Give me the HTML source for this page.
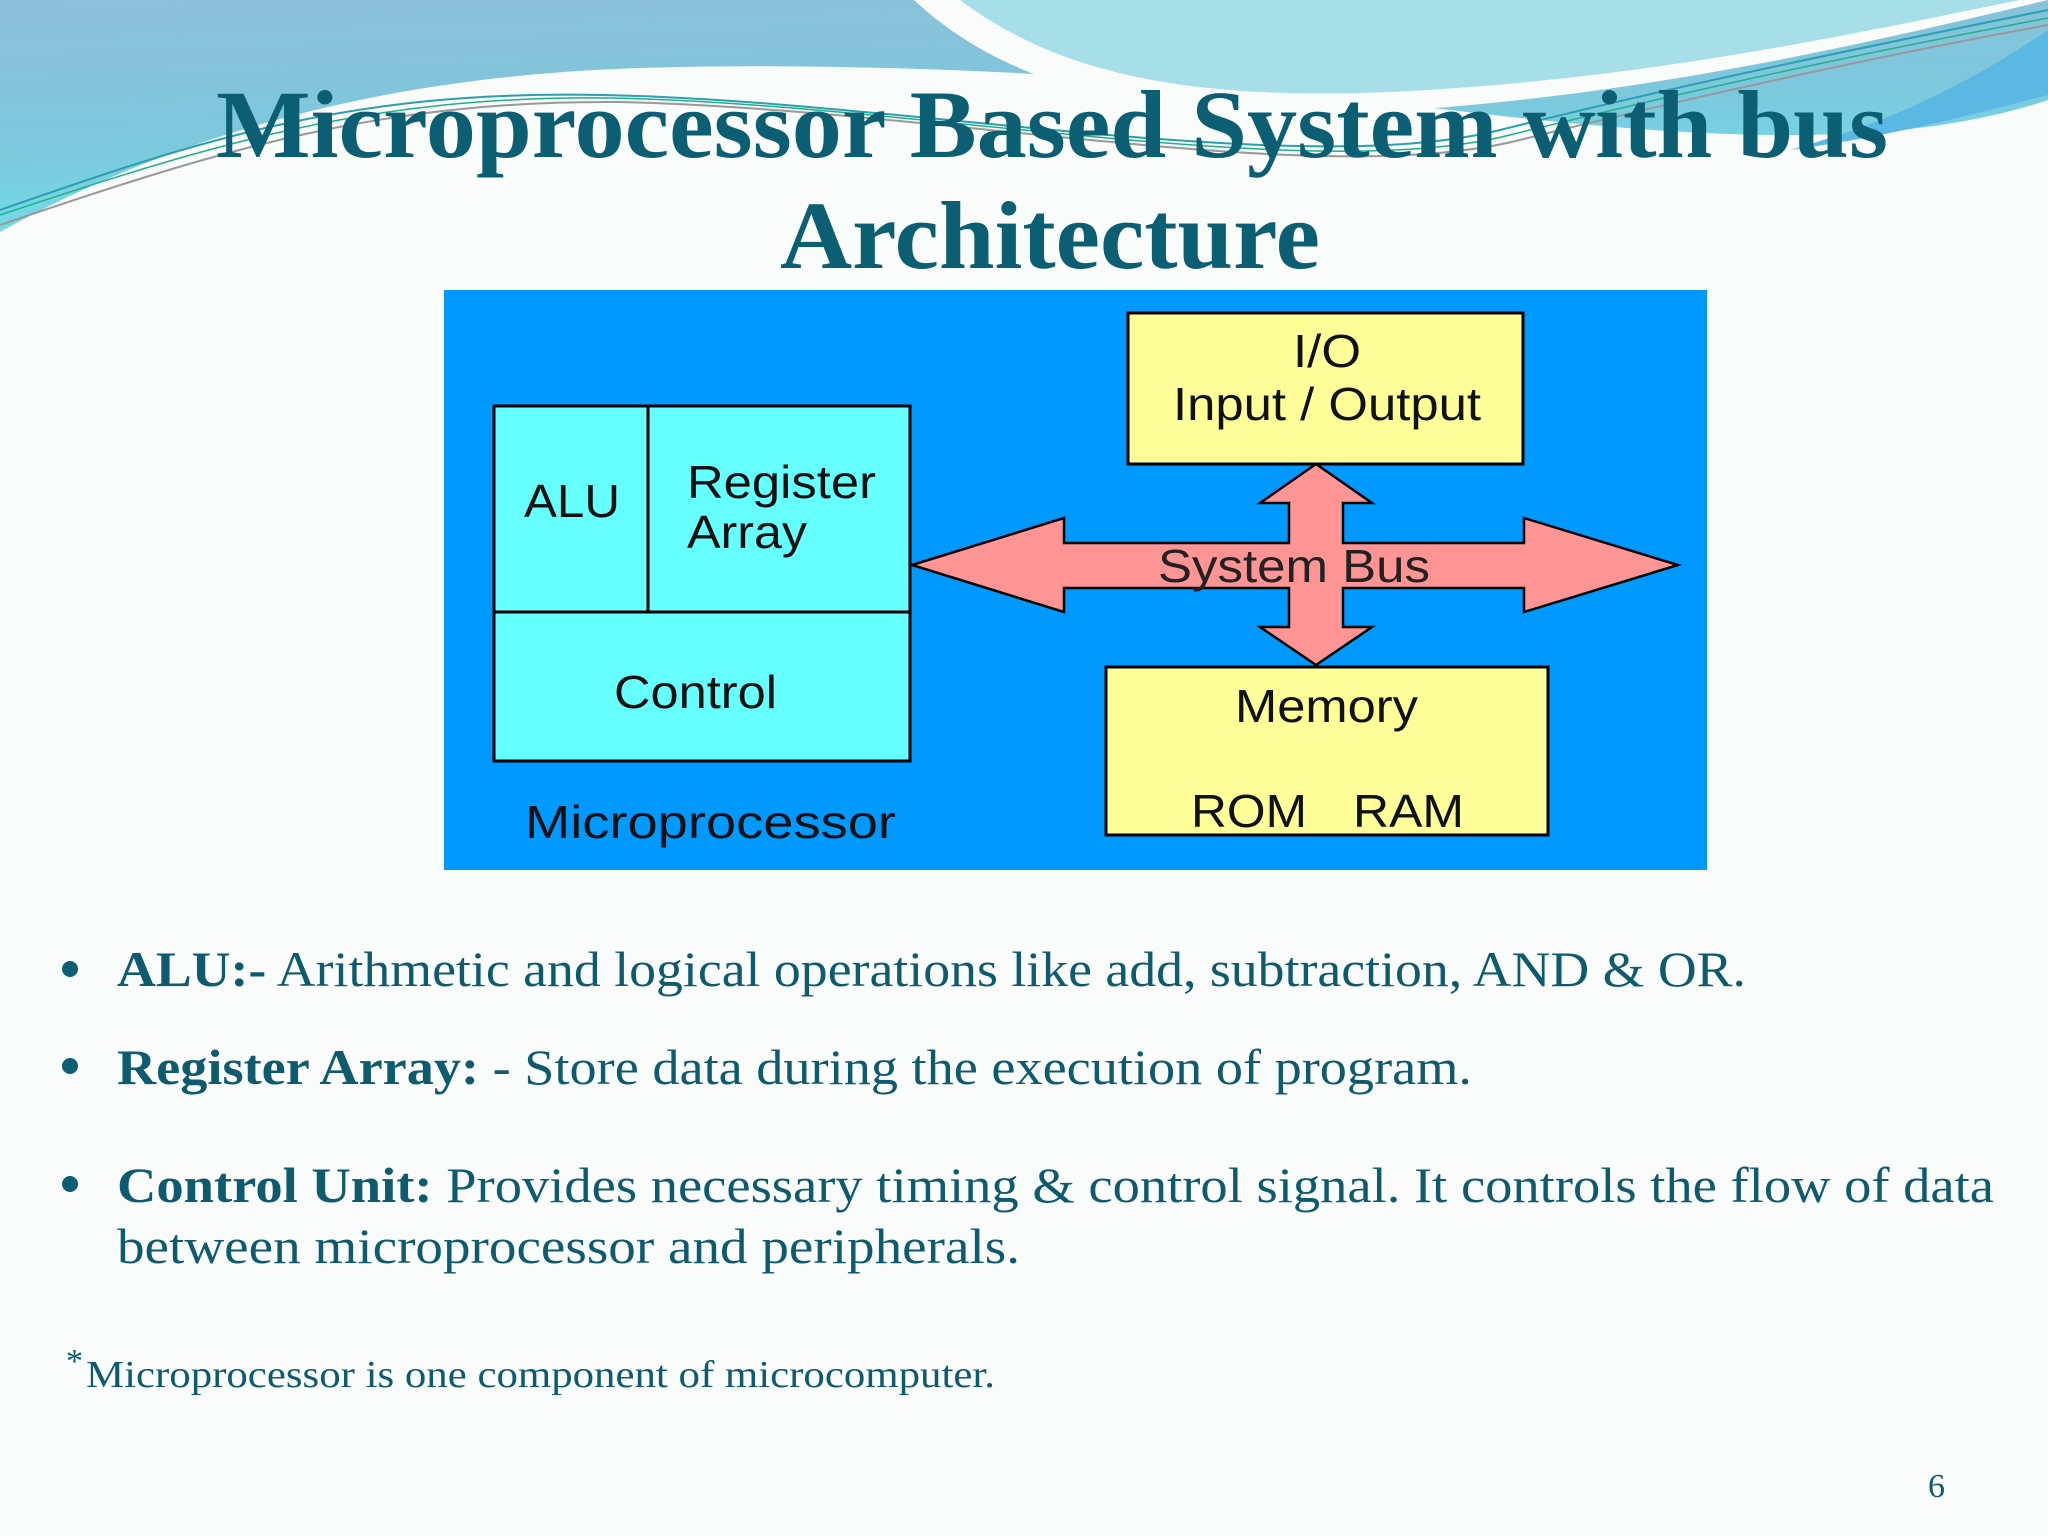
<!DOCTYPE html>
<html><head><meta charset="utf-8"><style>
html,body{margin:0;padding:0;background:#fafbfb;}
svg{display:block}
</style></head><body>
<svg width="2048" height="1536" viewBox="0 0 2048 1536" xmlns="http://www.w3.org/2000/svg">
<defs>
<linearGradient id="bg1" x1="0" y1="0" x2="0.3" y2="1">
<stop offset="0" stop-color="#8ebfda"/><stop offset="0.6" stop-color="#7cc8dc"/><stop offset="1" stop-color="#6fe0ea"/>
</linearGradient>
</defs>
<rect width="2048" height="1536" fill="#fafbfb"/>
<path d="M0,0 H2048 V100 C1900,150 1700,140 1450,110 C1200,80 900,60 640,68 C420,75 200,120 0,232 Z" fill="url(#bg1)"/>
<path d="M914,0 C1010,90 1160,125 1380,112 C1650,96 1880,40 2048,0 Z" fill="#fafbfb"/>
<path d="M960,0 C1060,75 1190,100 1390,92 C1650,80 1870,30 2020,0 Z" fill="#a6dfe8"/>
<path d="M2048,30 C1960,90 1880,125 1790,150 C1900,135 1990,110 2048,95 Z" fill="#5ab8e2"/>
<path d="M0,210 C200,140 350,90 600,95 C900,100 1300,180 1500,130 C1700,80 1900,40 2048,10" fill="none" stroke="#2a9fb0" stroke-width="2"/>
<path d="M0,225 C220,150 380,100 620,102 C950,110 1320,190 1520,140 C1720,90 1910,50 2048,25" fill="none" stroke="#999" stroke-width="2"/>
<path d="M0,215 C210,145 370,95 610,98 C920,104 1310,185 1510,135 C1710,85 1905,45 2048,18" fill="none" stroke="#1fb08a" stroke-width="1.5"/>

<g font-family="Liberation Serif, serif" font-weight="bold" fill="#0c5f73" font-size="96">
<text x="216" y="157" textLength="1672" lengthAdjust="spacingAndGlyphs">Microprocessor  Based System with bus</text>
<text x="780" y="268" textLength="540" lengthAdjust="spacingAndGlyphs">Architecture</text>
</g>

<rect x="444" y="290" width="1263" height="580" fill="#0099ff"/>
<g stroke="#000" stroke-width="3">
<rect x="494" y="406" width="416" height="355" fill="#66ffff"/>
<line x1="648" y1="406" x2="648" y2="612"/>
<line x1="494" y1="612" x2="910" y2="612"/>
<rect x="1128" y="313" width="395" height="151" fill="#ffff99"/>
<rect x="1106" y="667" width="442" height="168" fill="#ffff99"/>
<polygon points="912,565 1064,518 1064,543 1289,543 1289,503 1260,503 1316,464 1372,503 1343,503 1343,543 1524,543 1524,518 1678,565 1524,612 1524,588 1343,588 1343,627 1372,627 1316,665 1260,627 1289,627 1289,588 1064,588 1064,612" fill="#ff9494" stroke-width="2.5"/>
</g>
<g font-family="Liberation Sans, sans-serif" font-size="46" fill="#111">
<text x="524" y="517" textLength="96" lengthAdjust="spacingAndGlyphs">ALU</text>
<text x="687" y="498" textLength="189" lengthAdjust="spacingAndGlyphs">Register</text>
<text x="687" y="548" textLength="120" lengthAdjust="spacingAndGlyphs">Array</text>
<text x="614" y="708" textLength="163" lengthAdjust="spacingAndGlyphs">Control</text>
<text x="525" y="838" textLength="371" lengthAdjust="spacingAndGlyphs">Microprocessor</text>
<text x="1293" y="367" textLength="68" lengthAdjust="spacingAndGlyphs">I/O</text>
<text x="1173" y="420" textLength="308" lengthAdjust="spacingAndGlyphs">Input / Output</text>
<text x="1158" y="582" textLength="272" lengthAdjust="spacingAndGlyphs" fill="#222">System Bus</text>
<text x="1235" y="722" textLength="183" lengthAdjust="spacingAndGlyphs">Memory</text>
<text x="1191" y="827" textLength="116" lengthAdjust="spacingAndGlyphs">ROM</text>
<text x="1353" y="827" textLength="111" lengthAdjust="spacingAndGlyphs">RAM</text>
</g>

<g fill="#0c5f73">
<circle cx="70" cy="969" r="8"/>
<circle cx="70" cy="1066" r="8"/>
<circle cx="70" cy="1184" r="8"/>
</g>
<g font-family="Liberation Serif, serif" font-size="50" fill="#0e5a6e">
<text x="117" y="986" textLength="1629" lengthAdjust="spacingAndGlyphs"><tspan font-weight="bold">ALU:-</tspan> Arithmetic and logical operations like add, subtraction, AND &amp; OR.</text>
<text x="117" y="1084" textLength="1355" lengthAdjust="spacingAndGlyphs"><tspan font-weight="bold">Register Array:</tspan> - Store data during the execution of program.</text>
<text x="117" y="1202" textLength="1877" lengthAdjust="spacingAndGlyphs"><tspan font-weight="bold">Control Unit:</tspan> Provides necessary timing &amp; control signal. It controls the flow of data</text>
<text x="117" y="1263" textLength="903" lengthAdjust="spacingAndGlyphs">between microprocessor and peripherals.</text>
<text x="66" y="1372" font-size="34">*</text>
<text x="86" y="1387" font-size="38" textLength="909" lengthAdjust="spacingAndGlyphs">Microprocessor is one component of microcomputer.</text>
<text x="1928" y="1497" font-size="34">6</text>
</g>
</svg>
</body></html>
